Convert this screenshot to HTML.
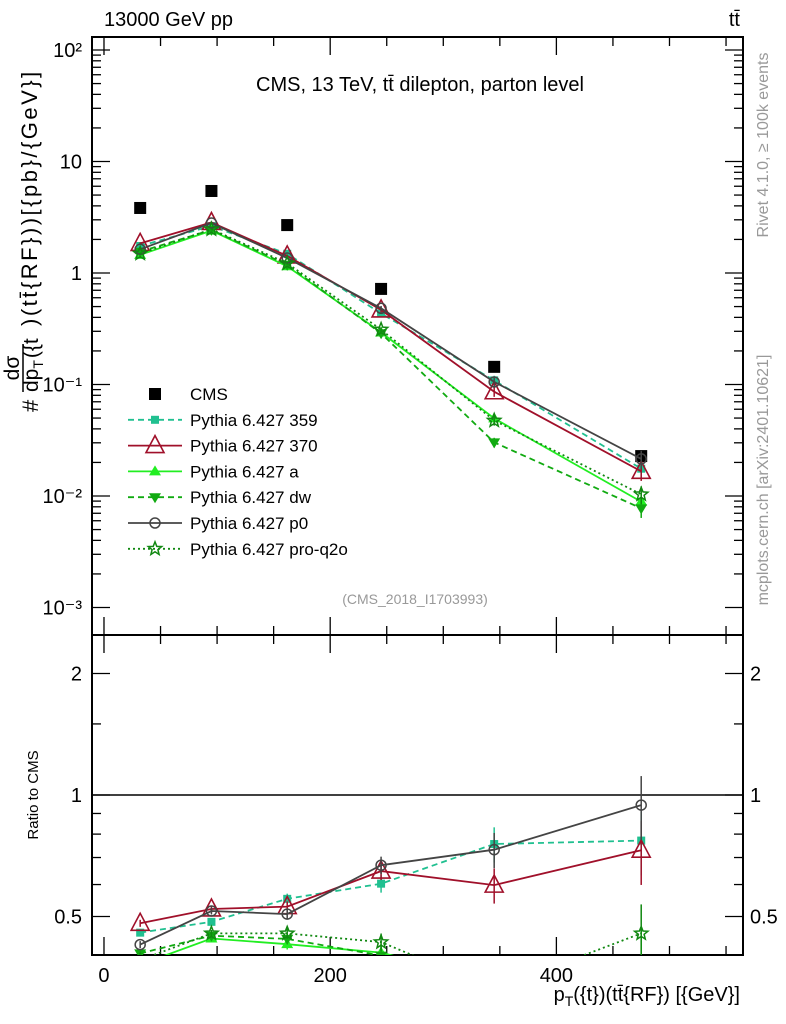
<!DOCTYPE html>
<html><head><meta charset="utf-8">
<style>
html,body{margin:0;padding:0;background:#fff;overflow:hidden;}
svg{display:block;font-family:"Liberation Sans",sans-serif;}
</style></head>
<body>
<svg id="chart" width="786" height="1024" viewBox="0 0 786 1024" xmlns="http://www.w3.org/2000/svg">
<defs>
<clipPath id="clipMain"><rect x="92" y="37" width="651" height="598"/></clipPath>
<clipPath id="clipRatio"><rect x="92" y="635" width="651" height="320"/></clipPath>
</defs>
<g id="axes"></g>
<g id="marks-main" clip-path="url(#clipMain)"></g>
<g id="marks-ratio" clip-path="url(#clipRatio)"></g>
<text x="104" y="26" font-size="20">13000 GeV pp</text>
<text x="740" y="26" font-size="20" text-anchor="end">tt̄</text>
<text x="420" y="91" font-size="20" text-anchor="middle">CMS, 13 TeV, tt̄ dilepton, parton level</text>
<text x="415" y="604" font-size="14" fill="#999" text-anchor="middle">(CMS_2018_I1703993)</text>
<text transform="translate(768,145) rotate(-90)" font-size="16" fill="#999" text-anchor="middle">Rivet 4.1.0, ≥ 100k events</text>
<text transform="translate(768,480) rotate(-90)" font-size="16" fill="#999" text-anchor="middle">mcplots.cern.ch [arXiv:2401.10621]</text>
<g transform="translate(38,412) rotate(-90)">
<text x="0" y="0" font-size="22">#</text>
<text x="44" y="-19" font-size="21" text-anchor="middle">dσ</text>
<line x1="20" y1="-15" x2="68" y2="-15" stroke="#000" stroke-width="1.5"/>
<text x="20" y="0" font-size="21">dp<tspan font-size="14" dy="5">T</tspan><tspan dy="-5" dx="2">({t</tspan></text>
<text x="86" y="-1" font-size="22" letter-spacing="2.5">)(tt̄{RF}))[{pb}/{GeV}]</text>
</g>
<text transform="translate(38,795) rotate(-90)" font-size="15" text-anchor="middle">Ratio to CMS</text>
<text x="740" y="1001" font-size="20" text-anchor="end">p<tspan font-size="14" dy="5">T</tspan><tspan dy="-5">({t})(tt̄{RF}) [{GeV}]</tspan></text>
<g id="legend"></g>
</svg>
<script>
const categories = [32, 95, 162, 245, 345, 475];
const cmsValues = [3.83, 5.44, 2.69, 0.72, 0.144, 0.0228];
const cmsErr = [0.05, 0.05, 0.05, 0.06, 0.08, 0.1];
const seriesNames = ["Pythia 6.427 359","Pythia 6.427 370","Pythia 6.427 a","Pythia 6.427 dw","Pythia 6.427 p0","Pythia 6.427 pro-q2o"];
const ratio359 = [0.456, 0.485, 0.553, 0.603, 0.756, 0.771];
const ratio370 = [0.481, 0.522, 0.529, 0.648, 0.598, 0.730];
const ratioA = [0.38, 0.441, 0.427, 0.407, 0.345, 0.39];
const ratioDw = [0.405, 0.448, 0.44, 0.40, 0.21, 0.34];
const ratioP0 = [0.426, 0.516, 0.507, 0.670, 0.732, 0.944];
const ratioPro = [0.39, 0.454, 0.454, 0.432, 0.33, 0.454];
const relErr = [0.02, 0.02, 0.03, 0.05, 0.1, 0.18];
const yTickLabels = ["10⁻³","10⁻²","10⁻¹","1","10","10²"];
const ratioTicks = [0.5, 1, 2];
const xTicks = [0, 200, 400];

const NS="http://www.w3.org/2000/svg";
const X0=92,X1=743,MT=37,MB=635,RB=955;
const xmin=-10.6,xmax=565;
const xs=v=>X0+(v-xmin)/(xmax-xmin)*(X1-X0);
const ym=v=>273-Math.log10(v)*111.5;
const yr=r=>795-Math.log2(r)*121.5;
function el(tag,attrs,parent){const e=document.createElementNS(NS,tag);for(const k in attrs)e.setAttribute(k,attrs[k]);parent.appendChild(e);return e;}
const axes=document.getElementById('axes');
const gm=document.getElementById('marks-main');
const gr=document.getElementById('marks-ratio');
const leg=document.getElementById('legend');

let f=el('rect',{x:X0,y:MT,width:X1-X0,height:MB-MT,fill:'none',stroke:'#000','stroke-width':2},axes);


f=el('rect',{x:X0,y:MB,width:X1-X0,height:RB-MB,fill:'none',stroke:'#000','stroke-width':2},axes);


for(let v=0;v<=xmax;v+=50){
  const major=v%200===0, L=major?18:9, x=xs(v);
  [[MB,-1],[MT,1],[RB,-1],[MB,1]].forEach(([y,d])=>el('line',{x1:x,x2:x,y1:y,y2:y+d*L,stroke:'#000','stroke-width':1.3},axes));
}
xTicks.forEach(v=>{const t=el('text',{x:xs(v),y:982,'font-size':20,'text-anchor':'middle'},axes);t.textContent=v;

});
for(let e=-3;e<=2;e++){
  for(let m=1;m<10;m++){
    const v=m*Math.pow(10,e), y=ym(v); if(y<MT||y>MB)continue;
    const L=m===1?18:9;
    el('line',{x1:X0,x2:X0+L,y1:y,y2:y,stroke:'#000','stroke-width':1.3},axes);
    el('line',{x1:X1,x2:X1-L,y1:y,y2:y,stroke:'#000','stroke-width':1.3},axes);
  }
  const t=el('text',{x:82,y:ym(Math.pow(10,e))+7,'font-size':20,'text-anchor':'end'},axes);
  t.textContent=yTickLabels[e+3];
  
  
}
[0.5,0.6,0.7,0.8,0.9,1,1.5,2].forEach(r=>{const y=yr(r),L=(r===0.5||r===1||r===2)?18:9;
el('line',{x1:X0,x2:X0+L,y1:y,y2:y,stroke:'#000','stroke-width':1.3},axes);
el('line',{x1:X1,x2:X1-L,y1:y,y2:y,stroke:'#000','stroke-width':1.3},axes);});
ratioTicks.forEach(r=>{[[82,'end'],[750,'start']].forEach(([x,a])=>{const t=el('text',{x:x,y:yr(r)+7,'font-size':20,'text-anchor':a},axes);t.textContent=r;

});});
let ln=el('line',{x1:X0,x2:X1,y1:yr(1),y2:yr(1),stroke:'#000','stroke-width':1.5},gr);



function marker(type,x,y,color,parent,s){
  s=s||1;let m;
  if(type==='sq') m=el('rect',{x:x-6*s,y:y-6*s,width:12*s,height:12*s,fill:color},parent);
  else if(type==='sqs') m=el('rect',{x:x-4,y:y-4,width:8,height:8,fill:color},parent);
  else if(type==='tri') m=el('polygon',{points:`${x},${y-10} ${x-9},${y+7} ${x+9},${y+7}`,fill:'none',stroke:color,'stroke-width':1.6},parent);
  else if(type==='trif') m=el('polygon',{points:`${x},${y-6} ${x-6},${y+4} ${x+6},${y+4}`,fill:color},parent);
  else if(type==='trid') m=el('polygon',{points:`${x},${y+6} ${x-6},${y-4} ${x+6},${y-4}`,fill:color},parent);
  else if(type==='circ') m=el('circle',{cx:x,cy:y,r:5,fill:'none',stroke:color,'stroke-width':1.5},parent);
  else if(type==='star'){let p=[];for(let i=0;i<10;i++){const a=-Math.PI/2+i*Math.PI/5,r=i%2?3:7;p.push((x+r*Math.cos(a)).toFixed(1)+','+(y+r*Math.sin(a)).toFixed(1));}
    m=el('polygon',{points:p.join(' '),fill:'none',stroke:color,'stroke-width':1.5},parent);}
  return m;
}
const series=[
 {name:seriesNames[0],r:ratio359,color:'#20c090',dash:'6,4',mk:'sqs',key:'359'},
 {name:seriesNames[1],r:ratio370,color:'#a0102a',dash:'',mk:'tri',key:'370'},
 {name:seriesNames[2],r:ratioA,color:'#22ee22',dash:'',mk:'trif',key:'a'},
 {name:seriesNames[3],r:ratioDw,color:'#11aa11',dash:'6,4',mk:'trid',key:'dw'},
 {name:seriesNames[4],r:ratioP0,color:'#444444',dash:'',mk:'circ',key:'p0'},
 {name:seriesNames[5],r:ratioPro,color:'#118811',dash:'2,3',mk:'star',key:'pro-q2o'}
];
categories.forEach((c,i)=>{
  const x=xs(c),v=cmsValues[i];
  el('line',{x1:x,x2:x,y1:ym(v*(1+cmsErr[i])),y2:ym(v*(1-cmsErr[i])),stroke:'#000'},gm);
  const m=marker('sq',x,ym(v),'#000',gm);
  
  
});
series.forEach(s=>{
  const pm=categories.map((c,i)=>xs(c)+','+ym(cmsValues[i]*s.r[i]).toFixed(1)).join(' ');
  const pr=categories.map((c,i)=>xs(c)+','+yr(s.r[i]).toFixed(1)).join(' ');
  let l=el('polyline',{points:pm,fill:'none',stroke:s.color,'stroke-width':1.8,'stroke-dasharray':s.dash},gm);
  
  
  l=el('polyline',{points:pr,fill:'none',stroke:s.color,'stroke-width':1.8,'stroke-dasharray':s.dash},gr);
  
  
  categories.forEach((c,i)=>{
    const x=xs(c),v=cmsValues[i]*s.r[i],e=relErr[i];
    el('line',{x1:x,x2:x,y1:ym(v*(1+e)),y2:ym(v*(1-e)),stroke:s.color,'stroke-width':1.5},gm);
    el('line',{x1:x,x2:x,y1:yr(s.r[i]*(1+e)),y2:yr(s.r[i]*(1-e)),stroke:s.color,'stroke-width':1.5},gr);
    let m=marker(s.mk,x,ym(v),s.color,gm);
    
    
    m=marker(s.mk,x,yr(s.r[i]),s.color,gr);
    
    
  });
});
const LY0=394,LDY=25.8;
let g=el('g',{},leg);


marker('sq',155,LY0,'#000',g);
let t=el('text',{x:190,y:LY0+6,'font-size':17},g);t.textContent='CMS';
series.forEach((s,i)=>{
  const y=LY0+LDY*(i+1);
  const gg=el('g',{},leg);
  
  
  el('line',{x1:128,x2:182,y1:y,y2:y,stroke:s.color,'stroke-width':1.8,'stroke-dasharray':s.dash},gg);
  marker(s.mk,155,y,s.color,gg);
  const tt=el('text',{x:190,y:y+6,'font-size':17},gg);tt.textContent=s.name;
});
</script>
</body></html>
